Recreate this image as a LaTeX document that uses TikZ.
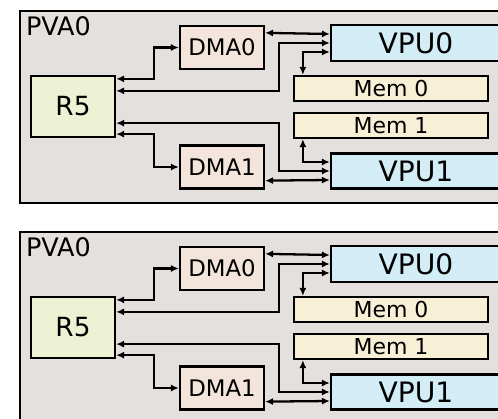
\documentclass[tikz,border=0pt]{standalone}
\usepackage{fontspec}
\setsansfont{DejaVu Sans}
\usetikzlibrary{arrows.meta,calc}
\definecolor{pvagray}{RGB}{227,224,221}
\definecolor{rfill}{RGB}{237,242,212}
\definecolor{dmafill}{RGB}{243,229,219}
\definecolor{vpufill}{RGB}{210,237,246}
\definecolor{memfill}{RGB}{247,240,214}

\begin{document}
\begin{tikzpicture}[x=0.02cm, y=-0.02cm, font=\sffamily,
    blk/.style={draw, line width=1.3pt, inner sep=0pt},
    link/.style={line width=1.3pt, {Latex[length=4.5pt,width=4pt]}-{Latex[length=4.5pt,width=4pt]}}]
    \useasboundingbox (0,0) rectangle (498,419);
    \foreach \p/\dy in {a/0,b/221} {
    \begin{scope}[shift={(0,\dy)}]
        \node[blk, line width=1.6pt, fill=pvagray, minimum width=10cm, minimum height=3.84cm] (pva\p) at (270,107) {};
        \node[anchor=north west, inner sep=4pt, font=\sffamily\fontsize{14.5}{16}\selectfont] (lbl\p) at (pva\p.north west) {PVA0};
        \node[blk, fill=rfill, minimum width=1.68cm, minimum height=1.22cm, font=\sffamily\fontsize{15}{17}\selectfont] (r5\p) at (73,106.5) {R5};
        \node[blk, fill=dmafill, minimum width=1.68cm, minimum height=0.86cm, font=\sffamily\fontsize{13}{15}\selectfont] (dma0\p) at (222,47.5) {DMA0};
        \node[blk, fill=dmafill, minimum width=1.68cm, minimum height=0.86cm, font=\sffamily\fontsize{13}{15}\selectfont] (dma1\p) at (222,167) {DMA1};
        \node[blk, fill=vpufill, minimum width=3.4cm, minimum height=0.72cm, font=\sffamily\fontsize{16}{18}\selectfont] (vpu0\p) at (416,43) {VPU0};
        \node[blk, fill=vpufill, minimum width=3.4cm, minimum height=0.7cm, font=\sffamily\fontsize{16}{18}\selectfont] (vpu1\p) at (416,171) {VPU1};
        \node[blk, fill=memfill, minimum width=3.88cm, minimum height=0.5cm, font=\sffamily\fontsize{12.5}{14}\selectfont] (mem0\p) at (391,88.5) {Mem 0};
        \node[blk, fill=memfill, minimum width=3.88cm, minimum height=0.5cm, font=\sffamily\fontsize{12.5}{14}\selectfont] (mem1\p) at (391,125.5) {Mem 1};
        % R5 links
        \draw[link] ($(r5\p.north east)+(0,4)$) -- ++(38,0) |- (dma0\p.west);
        \draw[link] ($(r5\p.north east)+(0,16)$) -- ++(163,0) |- (vpu0\p.west);
        \draw[link] ($(r5\p.south east)+(0,-15)$) -- ++(163,0) |- (vpu1\p.west);
        \draw[link] ($(r5\p.south east)+(0,-4)$) -- ++(38,0) |- (dma1\p.west);
        % DMA and memory links
        \draw[link] ($(dma0\p.north east)+(0,8)$) -- ($(vpu0\p.west)+(0,-9)$);
        \draw[link] ($(dma1\p.south east)+(0,-9)$) -- ($(vpu1\p.west)+(0,9)$);
        \draw[link] ($(mem0\p.north west)+(10,0)$) |- ($(vpu0\p.west)+(0,9)$);
        \draw[link] ($(mem1\p.south west)+(10,0)$) |- ($(vpu1\p.west)+(0,-9)$);
    \end{scope}
    }
\end{tikzpicture}
\end{document}
